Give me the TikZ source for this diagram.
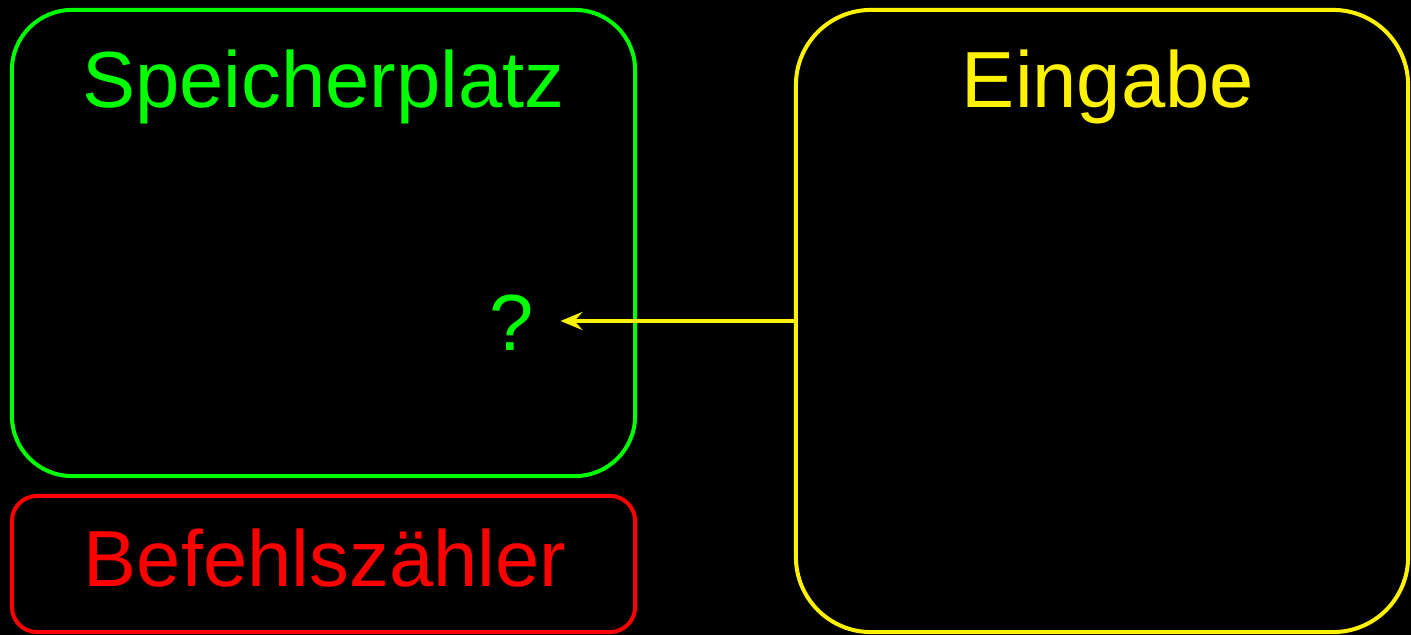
\documentclass[tikz,border=0pt]{standalone}
\usepackage{fontspec}
\setmainfont{Liberation Sans}
\usetikzlibrary{arrows.meta}

\begin{document}
\begin{tikzpicture}[x=0.025cm, y=-0.025cm,
	box/.style={draw, line width=0.1cm, rounded corners=#1},
	beschriftung/.style={font=\fontsize{56.6}{60}\selectfont, anchor=base},
	pfeil/.style={yellow, line width=0.1cm, arrows={-Stealth[length=0.55cm, width=0.45cm, inset=0.2cm]}}]

	\fill [black] (0,0) rectangle (1411,635);

	\node [box=1.5cm, green, minimum width=15.575cm, minimum height=11.65cm] (speicher) at (323.5,243) {};
	\node [box=0.625cm, red, minimum width=15.575cm, minimum height=3.4cm] (zaehler) at (323.5,564) {};
	\node [box=1.875cm, yellow, minimum width=15.3cm, minimum height=15.55cm] (eingabe) at (1102,321) {};

	\node [beschriftung, green] (speichertext) at (323.5,108) {Speicherplatz};
	\node [beschriftung, red] (zaehlertext) at (325,586) {Befehlszähler};
	\node [beschriftung, yellow] (eingabetext) at (1108,108) {Eingabe};
	\node [beschriftung, green, inner sep=0.65cm] (frage) at (512,350) {?};

	\draw [pfeil] (eingabe.west) -- (eingabe.west -| frage.east);

\end{tikzpicture}
\end{document}
